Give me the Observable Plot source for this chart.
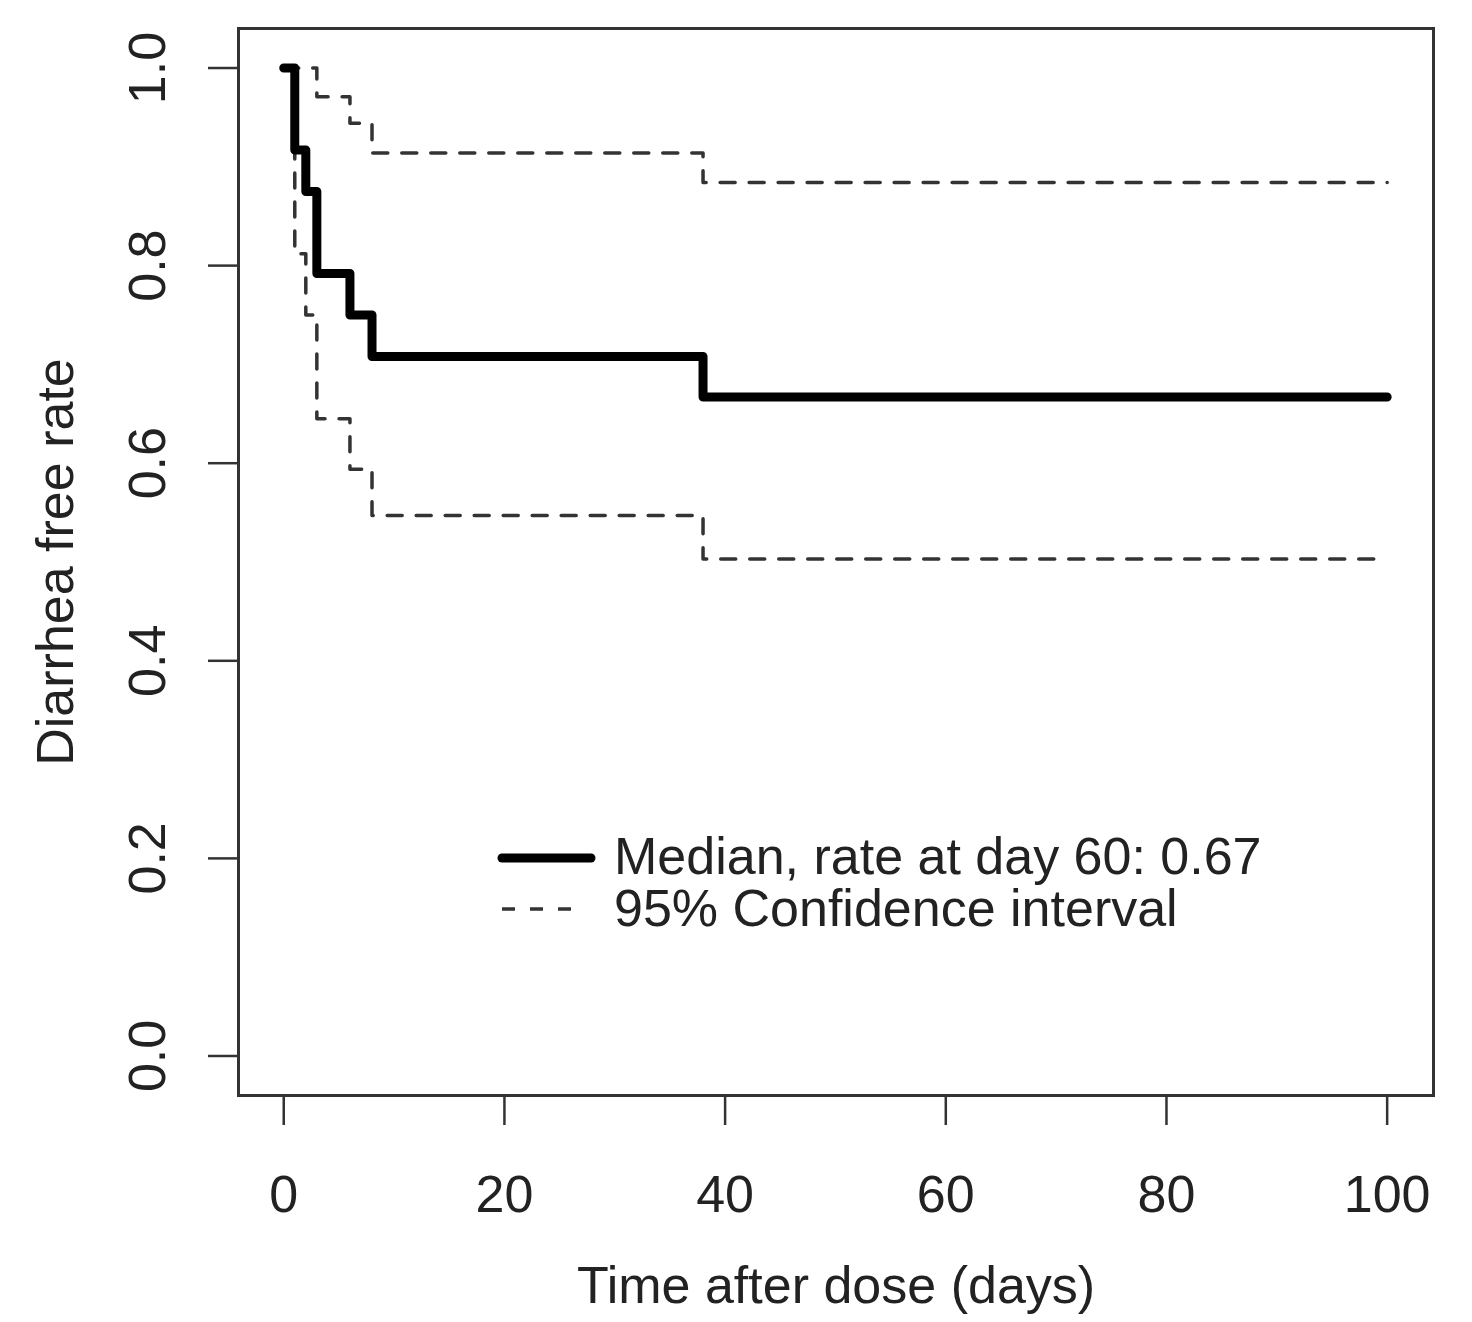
<!DOCTYPE html>
<html>
<head>
<meta charset="utf-8">
<script src="https://cdn.jsdelivr.net/npm/d3@7"></script>
<script src="https://cdn.jsdelivr.net/npm/@observablehq/plot@0.6"></script>
<style>
  html, body { margin: 0; padding: 0; background: #fff; }
  #chart { width: 1472px; height: 1322px; }
</style>
</head>
<body>
<div id="chart"></div>
<script>
// ---- data ----
const times   = [0, 1, 2, 3, 6, 8, 38, 100];
const median  = [1.0, 0.917, 0.875, 0.792, 0.750, 0.708, 0.667, 0.667];
const upperCI = [1.0, 1.0, 1.0, 0.971, 0.944, 0.914, 0.884, 0.884];
const lowerCI = [1.0, 0.812, 0.750, 0.645, 0.594, 0.547, 0.503, 0.503];
const xTicks = [0, 20, 40, 60, 80, 100];
const yTicks = [0.0, 0.2, 0.4, 0.6, 0.8, 1.0];
const xTitle = "Time after dose (days)";
const yTitle = "Diarrhea free rate";
const legendLabels = ["Median, rate at day 60: 0.67", "95% Confidence interval"];

const medTable = times.map((t, i) => ({t, v: median[i]}));
const upTable = times.map((t, i) => ({t, v: upperCI[i]}));
const loTable = times.map((t, i) => ({t, v: lowerCI[i]}));

const FONT = "'Liberation Sans', Arial, Helvetica, sans-serif";
const FS = 52;
const dash = "15,14";

const chart = Plot.plot({
  width: 1472,
  height: 1322,
  marginLeft: 238,
  marginRight: 39,
  marginTop: 28,
  marginBottom: 227,
  style: {fontFamily: FONT, background: "#fff", color: "#222"},
  x: {domain: [-4.1, 104.2]},
  y: {domain: [-0.04, 1.04]},
  marks: [
    Plot.line(upTable, {x: "t", y: "v", curve: "step-after", stroke: "#333", strokeWidth: 3.5, strokeDasharray: dash}),
    Plot.line(loTable, {x: "t", y: "v", curve: "step-after", stroke: "#333", strokeWidth: 3.5, strokeDasharray: dash}),
    Plot.line(medTable, {x: "t", y: "v", curve: "step-after", stroke: "#000", strokeWidth: 9, strokeLinecap: "round", strokeLinejoin: "round"}),
    Plot.frame({stroke: "#333", strokeWidth: 3}),
    Plot.axisX({ticks: xTicks, tickSize: 30, tickPadding: 50, fontSize: FS, stroke: "#333", strokeWidth: 2.5, label: null, tickFormat: d => String(d), fill: "#222"}),
    Plot.axisY({ticks: yTicks, tickSize: 30, tickFormat: () => "", stroke: "#333", strokeWidth: 2.5, label: null}),
    Plot.text(yTicks, {y: d => d, frameAnchor: "left", dx: -90, rotate: -90, textAnchor: "middle", lineAnchor: "middle", text: d => d.toFixed(1), fontSize: FS, fill: "#222"}),
    Plot.text([xTitle], {frameAnchor: "bottom", dy: 191, textAnchor: "middle", lineAnchor: "middle", text: d => d, fontSize: FS, fill: "#222"}),
    Plot.text([yTitle], {frameAnchor: "left", dx: -182, rotate: -90, textAnchor: "middle", lineAnchor: "middle", text: d => d, fontSize: FS, fill: "#222"})
  ]
});
document.getElementById("chart").appendChild(chart);

// ---- legend inside the plot area ----
const svg = d3.select(chart);
const lg = svg.append("g").attr("font-family", FONT).attr("font-size", FS).attr("fill", "#222").attr("text-anchor", "start");
lg.append("line").attr("x1", 502).attr("x2", 591).attr("y1", 858).attr("y2", 858)
  .attr("stroke", "#000").attr("stroke-width", 9).attr("stroke-linecap", "round");
lg.append("line").attr("x1", 502).attr("x2", 582).attr("y1", 909).attr("y2", 909)
  .attr("stroke", "#333").attr("stroke-width", 3.5).attr("stroke-dasharray", "13,15");
legendLabels.forEach((s, i) => {
  lg.append("text").attr("x", 614).attr("y", 874 + i * 52).attr("text-anchor", "start").text(s);
});
</script>
</body>
</html>
